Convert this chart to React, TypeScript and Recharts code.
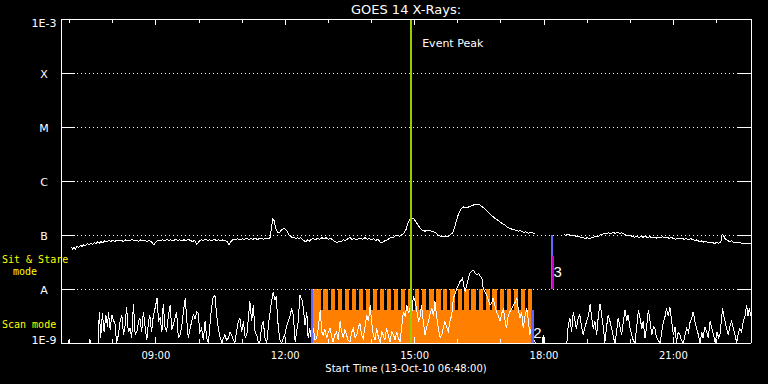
import React from 'react';
import { ComposedChart, Line, XAxis, YAxis, ReferenceLine, ReferenceArea, ReferenceDot } from 'recharts';

// GOES 14 flux, hours of day (13-Oct-2010) vs log10(W/m^2)
const longChannel: [number, number | null][] = [
  [7.04, -7.22], [7.07, -7.26], [7.1, -7.23], [7.13, -7.26], [7.17, -7.21], [7.21, -7.23], [7.25, -7.19], [7.29, -7.21],
  [7.33, -7.18], [7.37, -7.2], [7.41, -7.16], [7.45, -7.18], [7.49, -7.15], [7.53, -7.18], [7.57, -7.14], [7.61, -7.16],
  [7.65, -7.13], [7.69, -7.15], [7.73, -7.12], [7.77, -7.15], [7.81, -7.11], [7.86, -7.13], [7.9, -7.1], [7.95, -7.12],
  [8.0, -7.1], [8.05, -7.12], [8.1, -7.09], [8.15, -7.11], [8.2, -7.1], [8.25, -7.12], [8.3, -7.09], [8.35, -7.11],
  [8.4, -7.1], [8.45, -7.08], [8.5, -7.11], [8.55, -7.1], [8.6, -7.12], [8.65, -7.09], [8.7, -7.11], [8.75, -7.1],
  [8.8, -7.12], [8.85, -7.1], [8.9, -7.13], [8.95, -7.18], [9.0, -7.13], [9.05, -7.1], [9.1, -7.11], [9.15, -7.09],
  [9.2, -7.11], [9.25, -7.08], [9.3, -7.1], [9.35, -7.09], [9.4, -7.11], [9.45, -7.08], [9.5, -7.1], [9.55, -7.09],
  [9.6, -7.11], [9.65, -7.09], [9.7, -7.1], [9.75, -7.08], [9.8, -7.1], [9.85, -7.12], [9.9, -7.1], [9.95, -7.17],
  [10.0, -7.12], [10.05, -7.09], [10.1, -7.1], [10.15, -7.08], [10.2, -7.1], [10.25, -7.09], [10.3, -7.11], [10.35, -7.08],
  [10.4, -7.1], [10.45, -7.09], [10.5, -7.11], [10.55, -7.09], [10.6, -7.1], [10.65, -7.12], [10.7, -7.18], [10.75, -7.11],
  [10.8, -7.08], [10.85, -7.09], [10.9, -7.07], [10.95, -7.09], [11.0, -7.07], [11.05, -7.08], [11.1, -7.06], [11.15, -7.08],
  [11.2, -7.07], [11.25, -7.08], [11.3, -7.06], [11.35, -7.08], [11.4, -7.07], [11.45, -7.06], [11.5, -7.08], [11.55, -7.06],
  [11.6, -7.07], [11.65, -7.05], [11.68, -6.86], [11.71, -6.7], [11.74, -6.73], [11.77, -6.84], [11.8, -6.92], [11.84, -6.96],
  [11.88, -6.94], [11.92, -6.9], [11.96, -6.88], [12.0, -6.89], [12.04, -6.93], [12.08, -6.99], [12.12, -7.02], [12.16, -7.05],
  [12.2, -7.04], [12.24, -7.07], [12.28, -7.05], [12.32, -7.06], [12.36, -7.05], [12.4, -7.09], [12.44, -7.11], [12.48, -7.12],
  [12.52, -7.09], [12.56, -7.11], [12.6, -7.08], [12.65, -7.07], [12.7, -7.09], [12.75, -7.06], [12.8, -7.08], [12.85, -7.05],
  [12.9, -7.07], [12.95, -7.05], [13.0, -7.08], [13.05, -7.06], [13.1, -7.09], [13.15, -7.12], [13.2, -7.14], [13.25, -7.11],
  [13.3, -7.12], [13.35, -7.09], [13.4, -7.1], [13.45, -7.07], [13.5, -7.05], [13.55, -7.08], [13.6, -7.06], [13.65, -7.09],
  [13.7, -7.07], [13.75, -7.06], [13.8, -7.08], [13.85, -7.05], [13.9, -7.08], [13.95, -7.07], [14.0, -7.09], [14.05, -7.07],
  [14.1, -7.1], [14.15, -7.08], [14.2, -7.13], [14.25, -7.14], [14.3, -7.11], [14.35, -7.1], [14.4, -7.07], [14.45, -7.04],
  [14.5, -7.05], [14.55, -7.01], [14.6, -7.0], [14.65, -7.02], [14.7, -7.0], [14.75, -6.97], [14.8, -6.9], [14.84, -6.79],
  [14.89, -6.71], [14.94, -6.69], [14.98, -6.7], [15.03, -6.75], [15.08, -6.82], [15.13, -6.87], [15.18, -6.91], [15.24, -6.93],
  [15.3, -6.91], [15.36, -6.92], [15.42, -6.94], [15.47, -6.95], [15.53, -6.99], [15.59, -7.02], [15.65, -7.03], [15.7, -7.02],
  [15.76, -7.03], [15.82, -7.0], [15.87, -6.97], [15.9, -6.93], [15.94, -6.82], [15.98, -6.71], [16.02, -6.6], [16.06, -6.54],
  [16.1, -6.5], [16.14, -6.48], [16.2, -6.49], [16.26, -6.48], [16.32, -6.46], [16.38, -6.44], [16.44, -6.43], [16.5, -6.44],
  [16.56, -6.47], [16.62, -6.51], [16.68, -6.56], [16.74, -6.61], [16.8, -6.65], [16.86, -6.69], [16.92, -6.72], [16.98, -6.76],
  [17.04, -6.79], [17.1, -6.82], [17.16, -6.86], [17.22, -6.88], [17.28, -6.9], [17.34, -6.91], [17.4, -6.93], [17.46, -6.92],
  [17.52, -6.95], [17.58, -6.94], [17.64, -6.97], [17.7, -6.95], [17.76, -6.97], [17.8, -6.96], [17.85, null],
  [18.46, -6.99], [18.5, -7.01], [18.55, -6.99], [18.6, -7.0], [18.65, -7.02], [18.7, -7.0], [18.75, -7.03], [18.8, -7.02],
  [18.85, -7.05], [18.9, -7.04], [18.95, -7.07], [19.0, -7.05], [19.05, -7.07], [19.1, -7.05], [19.15, -7.04], [19.2, -7.02],
  [19.25, -7.03], [19.3, -7.0], [19.35, -6.99], [19.4, -6.97], [19.45, -6.98], [19.5, -6.96], [19.55, -6.98], [19.6, -6.95],
  [19.65, -6.97], [19.7, -6.95], [19.75, -6.97], [19.8, -6.96], [19.85, -6.98], [19.9, -7.0], [19.95, -7.02], [20.0, -7.0],
  [20.05, -7.03], [20.1, -7.04], [20.15, -7.02], [20.2, -7.05], [20.25, -7.03], [20.3, -7.04], [20.35, -7.02], [20.4, -7.05],
  [20.45, -7.03], [20.5, -7.05], [20.55, -7.04], [20.6, -7.06], [20.65, -7.04], [20.7, -7.05], [20.75, -7.03], [20.8, -7.05],
  [20.85, -7.04], [20.9, -7.06], [20.95, -7.05], [21.0, -7.06], [21.05, -7.08], [21.1, -7.06], [21.15, -7.07], [21.2, -7.06],
  [21.25, -7.08], [21.3, -7.07], [21.35, -7.09], [21.4, -7.07], [21.45, -7.08], [21.5, -7.1], [21.55, -7.09], [21.6, -7.12],
  [21.65, -7.11], [21.7, -7.13], [21.75, -7.12], [21.8, -7.14], [21.85, -7.15], [21.9, -7.13], [21.95, -7.16], [22.0, -7.14],
  [22.05, -7.15], [22.1, -7.14], [22.13, -6.98], [22.17, -7.02], [22.2, -7.07], [22.25, -7.1], [22.3, -7.12], [22.35, -7.11],
  [22.4, -7.14], [22.45, -7.13], [22.5, -7.15], [22.55, -7.14], [22.6, -7.16], [22.65, -7.15], [22.7, -7.16], [22.75, -7.15],
  [22.8, -7.16],
];

const shortChannel: [number, number | null][] = [
  [6.82, -9], [6.97, -9], [6.99, -8.93], [7.01, -9], [7.45, -9], [7.47, -8.93], [7.49, -9], [7.66, -9],
  [7.69, -8.42], [7.72, -8.9], [7.76, -8.45], [7.8, -8.8], [7.84, -8.48], [7.88, -8.7], [7.9, -8.42], [7.94, -8.75],
  [7.98, -8.48], [8.02, -8.6], [8.05, -8.62], [8.09, -9], [8.13, -8.85], [8.17, -8.6], [8.21, -8.48], [8.25, -8.85],
  [8.28, -8.73], [8.32, -8.33], [8.36, -8.8], [8.4, -8.73], [8.44, -8.9], [8.48, -8.27], [8.52, -8.85], [8.56, -8.79],
  [8.6, -8.6], [8.63, -8.54], [8.67, -8.8], [8.71, -8.42], [8.75, -8.7], [8.79, -8.95], [8.83, -8.6], [8.86, -8.48],
  [8.9, -8.8], [8.94, -8.5], [8.98, -8.36], [9.03, -8.16], [9.06, -8.6], [9.1, -8.54], [9.14, -8.8], [9.17, -8.27],
  [9.21, -8.7], [9.25, -8.79], [9.29, -8.5], [9.33, -8.3], [9.37, -8.75], [9.4, -8.67], [9.44, -8.55], [9.48, -8.42],
  [9.52, -8.9], [9.56, -8.85], [9.6, -8.7], [9.64, -8.4], [9.68, -8.17], [9.72, -8.6], [9.75, -8.91], [9.79, -8.75],
  [9.83, -8.6], [9.87, -8.48], [9.91, -8.55], [9.95, -8.42], [9.98, -8.45], [10.02, -8.8], [10.06, -8.73], [10.1, -8.95],
  [10.14, -8.6], [10.18, -8.91], [10.22, -9], [10.27, -8.5], [10.32, -8.17], [10.37, -8.12], [10.41, -8.5], [10.45, -8.73],
  [10.49, -8.9], [10.53, -9], [10.57, -8.9], [10.6, -8.85], [10.64, -8.95], [10.68, -8.91], [10.72, -8.8], [10.76, -8.85],
  [10.8, -8.95], [10.83, -9], [10.87, -8.8], [10.91, -8.6], [10.95, -8.54], [10.99, -8.8], [11.03, -8.6], [11.07, -8.9],
  [11.11, -8.85], [11.15, -8.5], [11.18, -8.23], [11.22, -8.6], [11.26, -8.3], [11.3, -8.8], [11.34, -8.85], [11.38, -9],
  [11.41, -9], [11.45, -8.7], [11.49, -8.6], [11.53, -8.9], [11.57, -9], [11.62, -8.6], [11.67, -8.3], [11.72, -8.06],
  [11.76, -8.2], [11.79, -8.14], [11.84, -8.73], [11.88, -8.95], [11.92, -9], [11.96, -8.9], [11.99, -8.85], [12.03, -8.7],
  [12.07, -8.6], [12.11, -8.5], [12.15, -8.36], [12.19, -8.5], [12.23, -8.98], [12.3, -8.6], [12.34, -8.11], [12.4, -8.23],
  [12.46, -8.67], [12.5, -8.42], [12.53, -8.91], [12.57, -8.73], [12.61, -8.95], [12.65, -8.73], [12.69, -8.95], [12.73, -8.91],
  [12.77, -8.7], [12.81, -8.39], [12.85, -8.8], [12.88, -8.85], [12.92, -8.75], [12.96, -8.91], [13.0, -8.8], [13.04, -8.73],
  [13.08, -8.9], [13.11, -8.98], [13.15, -8.85], [13.19, -8.79], [13.23, -8.95], [13.27, -8.6], [13.31, -8.8], [13.35, -8.91],
  [13.38, -8.75], [13.42, -8.85], [13.46, -8.95], [13.5, -8.98], [13.54, -8.8], [13.58, -8.73], [13.62, -8.9], [13.66, -8.85],
  [13.7, -8.7], [13.73, -8.63], [13.77, -8.85], [13.81, -8.91], [13.85, -8.7], [13.89, -8.48], [13.93, -8.6], [13.97, -8.3],
  [14.0, -8.6], [14.04, -8.85], [14.08, -8.95], [14.12, -8.73], [14.16, -8.9], [14.2, -8.98], [14.24, -8.8], [14.27, -8.85],
  [14.31, -8.95], [14.35, -8.73], [14.39, -8.85], [14.43, -8.98], [14.47, -8.8], [14.51, -8.85], [14.55, -8.95], [14.58, -8.79],
  [14.62, -8.9], [14.66, -8.98], [14.7, -8.7], [14.74, -8.42], [14.78, -8.5], [14.82, -8.3], [14.86, -8.45], [14.89, -8.36],
  [14.93, -8.5], [14.97, -8.14], [15.0, -8.2], [15.03, -8.3], [15.06, -8.45], [15.09, -8.6], [15.13, -8.5], [15.16, -8.3],
  [15.2, -8.6], [15.24, -8.85], [15.28, -8.7], [15.32, -8.6], [15.36, -8.45], [15.4, -8.36], [15.44, -8.5], [15.47, -8.23],
  [15.51, -8.5], [15.55, -8.73], [15.59, -8.9], [15.63, -8.85], [15.67, -8.7], [15.7, -8.6], [15.74, -8.7], [15.78, -8.79],
  [15.82, -8.6], [15.86, -8.48], [15.9, -8.17], [15.94, -8.08], [15.98, -7.99], [16.02, -7.92], [16.05, -7.86], [16.08, -7.84],
  [16.11, -7.8], [16.14, -7.95], [16.17, -8.05], [16.21, -7.93], [16.25, -7.8], [16.28, -7.71], [16.32, -7.68], [16.36, -7.65],
  [16.4, -7.7], [16.44, -7.74], [16.48, -7.71], [16.52, -7.76], [16.56, -7.8], [16.59, -7.99], [16.63, -8.05], [16.67, -8.11],
  [16.71, -8.2], [16.75, -8.3], [16.79, -8.25], [16.82, -8.17], [16.86, -8.3], [16.9, -8.42], [16.94, -8.5], [16.98, -8.6],
  [17.02, -8.45], [17.06, -8.36], [17.1, -8.6], [17.13, -8.73], [17.17, -8.5], [17.21, -8.42], [17.25, -8.36], [17.29, -8.3],
  [17.33, -8.25], [17.37, -8.17], [17.41, -8.4], [17.44, -8.54], [17.48, -8.42], [17.52, -8.73], [17.56, -8.5], [17.6, -8.36],
  [17.64, -8.6], [17.67, -8.85], [17.71, -8.7], [17.75, -8.91], [17.8, -9], [17.87, -9], [17.97, -9], [17.98, -8.85],
  [18.0, -9], [18.02, null],
  [18.53, -9], [18.56, -8.7], [18.6, -8.54], [18.64, -8.8], [18.68, -8.42], [18.72, -8.6], [18.75, -8.73], [18.79, -8.55],
  [18.83, -8.48], [18.87, -8.7], [18.91, -8.85], [18.95, -8.7], [18.99, -8.6], [19.03, -8.5], [19.07, -8.27], [19.1, -8.5],
  [19.14, -8.73], [19.18, -8.6], [19.22, -8.85], [19.26, -8.5], [19.3, -8.27], [19.34, -8.5], [19.38, -8.73], [19.41, -9],
  [19.45, -8.7], [19.49, -8.48], [19.53, -8.6], [19.57, -8.73], [19.61, -8.9], [19.65, -9], [19.68, -8.8], [19.72, -8.54],
  [19.76, -8.7], [19.8, -8.85], [19.84, -8.6], [19.88, -8.39], [19.92, -8.6], [19.95, -8.48], [19.99, -8.7], [20.03, -8.85],
  [20.07, -8.95], [20.11, -9], [20.15, -8.7], [20.19, -8.39], [20.23, -8.55], [20.27, -8.73], [20.3, -8.6], [20.34, -8.91],
  [20.38, -8.7], [20.42, -8.39], [20.46, -8.6], [20.5, -8.85], [20.54, -8.7], [20.57, -8.73], [20.61, -8.9], [20.65, -8.95],
  [20.69, -9], [20.73, -8.8], [20.77, -8.6], [20.81, -8.5], [20.84, -8.36], [20.88, -8.5], [20.92, -8.33], [20.96, -8.6],
  [21.0, -8.85], [21.04, -8.7], [21.07, -9], [21.11, -8.8], [21.15, -8.85], [21.19, -8.95], [21.23, -9], [21.27, -8.85],
  [21.31, -8.73], [21.35, -8.8], [21.39, -8.6], [21.42, -8.55], [21.46, -8.42], [21.5, -8.6], [21.54, -8.73], [21.58, -8.85],
  [21.62, -9], [21.66, -8.8], [21.69, -8.91], [21.73, -8.7], [21.77, -8.79], [21.81, -8.9], [21.85, -8.6], [21.89, -8.73],
  [21.93, -8.85], [21.97, -9], [22.01, -8.8], [22.05, -8.9], [22.08, -8.85], [22.11, -8.6], [22.14, -8.36], [22.17, -8.5],
  [22.2, -8.6], [22.24, -8.75], [22.27, -8.85], [22.31, -8.7], [22.35, -8.6], [22.39, -8.73], [22.43, -8.85], [22.47, -9],
  [22.51, -8.8], [22.54, -8.73], [22.58, -8.8], [22.62, -8.6], [22.66, -8.5], [22.7, -8.3], [22.73, -8.5], [22.76, -8.36],
  [22.8, -8.5],
];

// GOES class levels
const levelValues = [1e-9, 1e-8, 1e-7, 1e-6, 1e-5, 1e-4, 1e-3];
const levelNames = ['1E-9', 'A', 'B', 'C', 'M', 'X', '1E-3'];
const gridLevels = [1e-8, 1e-7, 1e-6, 1e-5, 1e-4];

const hourTicks = [7, 8, 9, 10, 11, 12, 13, 14, 15, 16, 17, 18, 19, 20, 21, 22];
const labelledHours = [9, 12, 15, 18, 21];

const eventPeak = 14.92;
const scanStart = 12.63;
const scanEnd = 17.73;
// start of each dark slot in the scan comb
const combGaps = [
  12.82, 12.99, 13.15, 13.31, 13.48, 13.64, 13.8, 13.97, 14.13, 14.29,
  14.46, 14.62, 14.78, 14.95, 15.11, 15.27, 15.44, 15.6, 15.76, 15.93,
  16.09, 16.25, 16.42, 16.58, 16.74, 16.91, 17.07, 17.23, 17.4, 17.56,
];
const sitStareStart = 18.19;
const sitStareMark = 18.22;

const toPoints = (arr: [number, number | null][]) =>
  arr.map(([t, l]) => ({ t, v: l === null ? null : Math.pow(10, l) }));

const longData = toPoints(longChannel);
const shortData = toPoints(shortChannel);

const WHITE = '#ffffff';
const YELLOW = '#ffff00';
const ORANGE = '#ff8000';
const BLUE = '#6464ff';
const MAGENTA = '#cc00cc';
const GREEN = '#99cc00';
const MONO = '"DejaVu Sans Mono", monospace';

const sitStareLabelAt = Math.pow(10, -7.52);
const scanLabelAt = Math.pow(10, -8.72);

const LeftTick = (props: any) => {
  const { x, y, payload } = props;
  const v = payload.value;
  if (v === sitStareLabelAt) {
    return (
      <g fill={YELLOW} fontSize={10} fontFamily={MONO}>
        <text x={x - 59} y={y}>{'Sit & Stare'}</text>
        <text x={x - 48} y={y + 12}>mode</text>
      </g>
    );
  }
  if (v === scanLabelAt) {
    return <text x={x - 59} y={y} fill={YELLOW} fontSize={10} fontFamily={MONO}>Scan mode</text>;
  }
  const i = levelValues.indexOf(v);
  const dy = i === levelValues.length - 1 ? 8 : i === 0 ? 1 : 5;
  return (
    <g>
      <line x1={x} x2={x + 14} y1={y} y2={y} stroke={WHITE} />
      <text x={x - 17} y={y + dy} textAnchor="middle" fill={WHITE} fontSize={11}>{levelNames[i]}</text>
    </g>
  );
};

const RightTick = (props: any) => {
  const { x, y } = props;
  return <line x1={x} x2={x - 14} y1={y} y2={y} stroke={WHITE} />;
};

const TopTick = (props: any) => {
  const { x, y, payload } = props;
  const len = labelledHours.includes(payload.value) ? 6 : 4;
  return <line x1={x} x2={x} y1={y} y2={y + len} stroke={WHITE} />;
};

const BottomTick = (props: any) => {
  const { x, y, payload } = props;
  const major = labelledHours.includes(payload.value);
  return (
    <g>
      <line x1={x} x2={x} y1={y} y2={y - (major ? 6 : 4)} stroke={WHITE} />
      {major && (
        <text x={x} y={y + 16} textAnchor="middle" fill={WHITE} fontSize={10}>
          {String(payload.value).padStart(2, '0') + ':00'}
        </text>
      )}
    </g>
  );
};

export default function App() {
  return (
    <div style={{ position: 'absolute', left: 0, top: 0, width: 768, height: 384, background: '#000', fontFamily: '"DejaVu Sans", sans-serif' }}>
      <style>{'svg line, svg path, svg rect { shape-rendering: crispEdges; }'}</style>
      <ComposedChart width={768} height={384} margin={{ top: 0, right: 0, bottom: 0, left: 0 }}>
        <XAxis
          dataKey="t"
          type="number"
          domain={[6.8, 22.8]}
          allowDataOverflow
          ticks={hourTicks}
          interval={0}
          height={41}
          tickSize={0}
          tickMargin={0}
          tickLine={false}
          tick={<BottomTick />}
          axisLine={{ stroke: WHITE }}
          label={{ value: 'Start Time (13-Oct-10 06:48:00)', position: 'insideBottom', offset: 12, fill: WHITE, fontSize: 10 }}
        />
        <XAxis
          xAxisId="top"
          orientation="top"
          dataKey="t"
          type="number"
          domain={[6.8, 22.8]}
          allowDataOverflow
          ticks={hourTicks}
          interval={0}
          height={19}
          tickSize={0}
          tickMargin={0}
          tickLine={false}
          tick={<TopTick />}
          axisLine={{ stroke: WHITE }}
          label={{ value: 'GOES 14 X-Rays:', position: 'insideTop', offset: 5, fill: WHITE, fontSize: 13 }}
        />
        <YAxis
          scale="log"
          type="number"
          domain={[1e-9, 1e-3]}
          allowDataOverflow
          ticks={[...levelValues, sitStareLabelAt, scanLabelAt]}
          interval={0}
          width={61}
          tickSize={0}
          tickMargin={0}
          tickLine={false}
          tick={<LeftTick />}
          axisLine={{ stroke: WHITE }}
        />
        <YAxis
          yAxisId="right"
          orientation="right"
          scale="log"
          type="number"
          domain={[1e-9, 1e-3]}
          allowDataOverflow
          ticks={levelValues}
          interval={0}
          width={17}
          tickSize={0}
          tickMargin={0}
          tickLine={false}
          tick={<RightTick />}
          axisLine={{ stroke: WHITE }}
        />

        <ReferenceArea x1={scanStart} x2={scanEnd} y1={1e-9} y2={1e-8} fill={ORANGE} fillOpacity={1} stroke="none" />
        {combGaps.map((g) => (
          <ReferenceArea key={g} x1={g} x2={g + 0.065} y1={Math.pow(10, -8.39)} y2={1e-8} fill="#000" fillOpacity={1} stroke="none" />
        ))}
        {gridLevels.map((v) => (
          <ReferenceLine key={v} y={v} stroke={WHITE} strokeDasharray="1 3" />
        ))}

        <Line data={longData} dataKey="v" type="linear" stroke={WHITE} strokeWidth={1} dot={false} isAnimationActive={false} />
        <Line data={shortData} dataKey="v" type="linear" stroke={WHITE} strokeWidth={1} dot={false} isAnimationActive={false} />

        <ReferenceLine segment={[{ x: scanStart, y: 1e-8 }, { x: scanStart, y: 1e-9 }]} stroke={BLUE} strokeWidth={2} />
        <ReferenceLine segment={[{ x: scanEnd, y: Math.pow(10, -8.39) }, { x: scanEnd, y: 1e-9 }]} stroke={BLUE} strokeWidth={3} />
        <ReferenceLine segment={[{ x: sitStareStart, y: 1e-7 }, { x: sitStareStart, y: 1e-8 }]} stroke={BLUE} strokeWidth={2} />
        <ReferenceLine segment={[{ x: sitStareMark, y: Math.pow(10, -7.38) }, { x: sitStareMark, y: 1e-8 }]} stroke={MAGENTA} strokeWidth={2} />
        <ReferenceLine x={eventPeak} stroke={GREEN} strokeWidth={2} />

        <ReferenceDot x={eventPeak} y={Math.pow(10, -3.44)} r={0} stroke="none" label={{ value: 'Event Peak', position: 'right', offset: 11, fill: WHITE, fontSize: 11 }} />
        <ReferenceDot x={scanEnd} y={Math.pow(10, -8.81)} r={0} stroke="none" label={{ value: '2', position: 'right', offset: 1, fill: WHITE, fontSize: 15, fontFamily: 'Liberation Sans' }} />
        <ReferenceDot x={sitStareMark} y={Math.pow(10, -7.68)} r={0} stroke="none" label={{ value: '3', position: 'right', offset: 0, fill: WHITE, fontSize: 15, fontFamily: 'Liberation Sans' }} />
      </ComposedChart>
    </div>
  );
}
